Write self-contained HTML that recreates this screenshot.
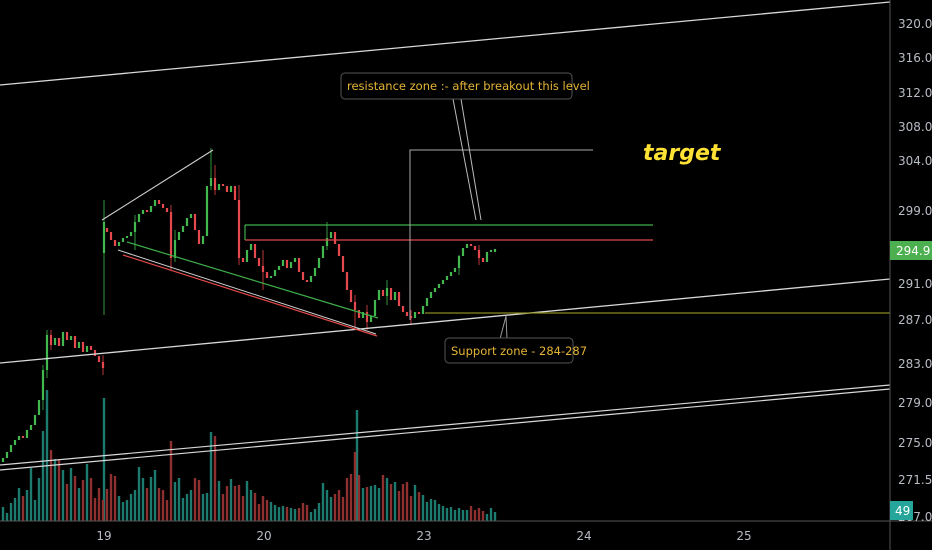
<!DOCTYPE html>
<html><head><meta charset="utf-8"><style>
html,body{margin:0;padding:0;background:#000;width:932px;height:550px;overflow:hidden}
svg{display:block}
text{font-family:"DejaVu Sans","Liberation Sans",sans-serif}
</style></head><body>
<svg width="932" height="550" viewBox="0 0 932 550" xmlns="http://www.w3.org/2000/svg">
<rect width="932" height="550" fill="#000"/>
<!-- volume -->
<path stroke="#1d7a6e" stroke-width="2.4" fill="none" d="M3,521V507M7,521V513M11,521V503M15,521V498M19,521V488M27,521V490M31,521V468M35,521V500M39,521V478M43,521V431M47,521V390M55,521V459M63,521V470M71,521V468M79,521V488M87,521V464M104,521V398M119,521V496M123,521V502M127,521V500M131,521V494M135,521V490M139,521V467M143,521V478M151,521V477M155,521V470M175,521V482M179,521V478M183,521V498M187,521V494M191,521V490M203,521V494M207,521V493M211,521V432M219,521V481M231,521V479M247,521V481M251,521V490M271,521V502M275,521V505M279,521V507M283,521V506M291,521V508M295,521V509M311,521V512M315,521V509M319,521V503M323,521V483M327,521V490M331,521V497M357,521V410M363,521V488M371,521V486M375,521V485M379,521V488M387,521V478M395,521V482M415,521V485M423,521V495M427,521V502M431,521V499M435,521V500M439,521V504M443,521V506M447,521V508M451,521V507M455,521V510M459,521V508M463,521V510M467,521V510M487,521V514M491,521V508M495,521V512"/>
<path stroke="#8e3030" stroke-width="2.4" fill="none" d="M23,521V496M51,521V450M59,521V460M67,521V484M75,521V476M83,521V480M91,521V478M95,521V498M99,521V488M103,521V500M107,521V489M111,521V474M115,521V476M147,521V488M159,521V488M163,521V490M167,521V500M171,521V441M195,521V478M199,521V480M215,521V436M223,521V494M227,521V486M235,521V486M239,521V485M243,521V496M255,521V493M259,521V504M263,521V496M267,521V500M287,521V507M299,521V508M303,521V503M307,521V505M335,521V494M339,521V490M343,521V497M347,521V478M351,521V474M355,521V452M359,521V475M367,521V487M383,521V475M391,521V484M399,521V491M403,521V484M407,521V482M411,521V496M419,521V492M471,521V506M475,521V510M479,521V508M483,521V511"/>
<!-- candles -->
<path stroke="#43b84e" stroke-width="0.8" fill="none" d="M104,200V315M47,330V378M43,365V410M211,148V190M135,215V250M327,222V250M459,255V275M387,280V305M175,230V262"/>
<path stroke="#e5484d" stroke-width="0.8" fill="none" d="M239,185V265M171,205V270M103,355V375M355,295V330M367,305V330M411,310V325M479,245V265M215,165V195M51,330V350M263,250V290"/>
<path stroke="#43b84e" stroke-width="2.2" fill="none" d="M3,462V458M7,458V452M11,452V445M15,445V440M19,440V436M27,438V430M31,430V425M35,425V415M39,415V400M43,400V370M47,370V335M55,345V338M63,346V332M71,340V336M79,348V342M87,352V346M104,253V222M119,246V242M123,242V238M127,238V236M131,236V232M135,232V222M139,222V214M143,214V210M151,212V206M155,206V200M175,258V240M179,240V232M183,232V226M187,226V218M191,218V214M203,244V236M207,236V186M211,186V178M219,190V184M231,192V186M247,262V250M251,250V244M271,278V276M275,276V270M279,270V266M283,266V260M291,268V262M295,262V258M311,282V276M315,276V268M319,268V258M323,258V246M327,246V238M331,238V232M363,318V312M371,322V316M375,316V300M379,300V290M387,296V288M395,300V292M415,318V312M423,314V306M427,306V298M431,298V292M435,292V288M439,288V284M443,284V280M447,280V276M451,276V272M455,272V268M459,268V256M463,256V248M467,248V244M487,262V252M491,252V250M495,252V249"/>
<path stroke="#e5484d" stroke-width="2.2" fill="none" d="M23,436V438M51,335V345M59,338V346M67,332V340M75,336V348M83,342V352M91,346V350M95,350V356M99,356V362M103,362V368M107,228V232M111,232V240M115,240V246M147,210V212M159,200V204M163,204V208M167,208V212M171,212V258M195,214V230M199,230V244M215,178V190M223,184V186M227,186V192M235,186V200M239,200V258M243,258V262M255,244V258M259,258V266M263,266V272M267,272V278M287,260V268M299,258V272M303,272V280M307,280V282M335,232V244M339,244V256M343,256V272M347,272V290M351,290V302M355,302V310M359,310V318M367,312V322M383,290V296M391,288V300M399,292V306M403,306V312M407,312V316M411,316V318M419,312V314M471,244V246M475,246V250M479,250V258M483,258V262"/>
<!-- trend lines -->
<line x1="0" y1="85" x2="890" y2="2" stroke="#d8d8d8" stroke-width="1.3"/>
<line x1="0" y1="363" x2="890" y2="279" stroke="#d8d8d8" stroke-width="1.3"/>
<line x1="0" y1="465" x2="890" y2="385" stroke="#d8d8d8" stroke-width="1.2"/>
<line x1="0" y1="470" x2="890" y2="389" stroke="#d8d8d8" stroke-width="1.2"/>
<line x1="102" y1="220" x2="213" y2="150" stroke="#d0d0d0" stroke-width="1.1"/>
<line x1="118" y1="250" x2="376" y2="334" stroke="#cfcfcf" stroke-width="1"/>
<line x1="123" y1="255" x2="377" y2="336" stroke="#e04848" stroke-width="1.2"/>
<line x1="127" y1="242" x2="378" y2="318" stroke="#3fae4a" stroke-width="1.2"/>
<line x1="245" y1="225" x2="653" y2="225" stroke="#3fae4a" stroke-width="1.2"/>
<line x1="245" y1="240" x2="653" y2="240" stroke="#e04848" stroke-width="1.2"/>
<line x1="245" y1="225" x2="245" y2="240" stroke="#3fae4a" stroke-width="1.2"/>
<line x1="425" y1="313" x2="890" y2="313" stroke="#8a8a20" stroke-width="1.3"/>
<polyline points="410,320 410,150 593,150" fill="none" stroke="#aaa" stroke-width="1"/>
<!-- callouts -->
<line x1="453" y1="99" x2="476" y2="220" stroke="#bbb" stroke-width="1"/>
<line x1="461" y1="99" x2="481" y2="220" stroke="#bbb" stroke-width="1"/>
<rect x="341" y="73" width="231" height="26" rx="4" fill="#000" stroke="#555"/>
<text x="347" y="90" font-size="11.5" fill="#e6b537">resistance zone :- after breakout this level</text>
<line x1="500" y1="339" x2="506" y2="316" stroke="#999" stroke-width="1"/>
<line x1="507" y1="339" x2="506" y2="316" stroke="#999" stroke-width="1"/>
<rect x="445" y="338" width="128" height="25" rx="4" fill="#000" stroke="#555"/>
<text x="451" y="355" font-size="11.5" fill="#e6b537">Support zone - 284-287</text>
<text x="643" y="160" font-size="22" font-weight="bold" font-style="italic" fill="#ffe234">target</text>
<!-- axes -->
<line x1="890" y1="0" x2="890" y2="550" stroke="#555" stroke-width="1"/>
<line x1="0" y1="521" x2="932" y2="521" stroke="#555" stroke-width="1"/>
<g font-size="12" fill="#b8bcc4">
<text x="898" y="28">320.0</text><text x="898" y="62">316.0</text><text x="898" y="97">312.0</text>
<text x="898" y="131">308.0</text><text x="898" y="165">304.0</text><text x="898" y="215">299.0</text>
<text x="898" y="288">291.0</text><text x="898" y="324">287.0</text><text x="898" y="368">283.0</text>
<text x="898" y="407">279.0</text><text x="898" y="447">275.0</text><text x="898" y="484">271.5</text>
<text x="898" y="521">267.0</text>
<text x="104" y="540" text-anchor="middle">19</text><text x="264" y="540" text-anchor="middle">20</text>
<text x="424" y="540" text-anchor="middle">23</text><text x="584" y="540" text-anchor="middle">24</text>
<text x="744" y="540" text-anchor="middle">25</text>
</g>
<rect x="890" y="241" width="42" height="19" fill="#4caf50"/>
<text x="896" y="255" font-size="12" fill="#fff">294.9</text>
<rect x="890" y="501" width="23" height="19" fill="#26a69a"/>
<text x="895" y="515" font-size="12" fill="#fff">49</text>
</svg>
</body></html>
